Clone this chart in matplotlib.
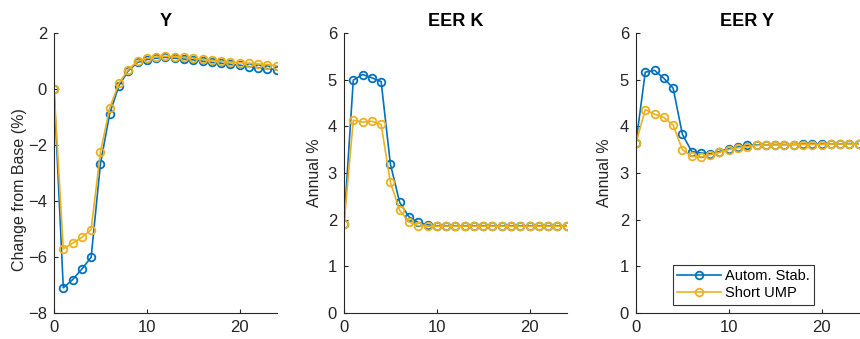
import matplotlib
matplotlib.use("Agg")
import matplotlib.pyplot as plt

plt.rcParams['font.family'] = ['Liberation Sans', 'DejaVu Sans']

# horizon (quarters)
t = list(range(25))

# Y: change from base (%)
y_auto = [0.0, -7.10, -6.81, -6.43, -6.01, -2.68, -0.88, 0.12, 0.65, 0.95, 1.05,
          1.10, 1.13, 1.10, 1.07, 1.04, 0.99, 0.95, 0.92, 0.88, 0.85, 0.80, 0.76, 0.73, 0.69]
y_short = [0.0, -5.71, -5.51, -5.30, -5.02, -2.26, -0.68, 0.21, 0.69, 0.99, 1.10,
           1.14, 1.17, 1.15, 1.13, 1.10, 1.06, 1.02, 0.99, 0.96, 0.94, 0.92, 0.89, 0.87, 0.83]

# EER K (annual %)
k_auto = [1.91, 4.99, 5.11, 5.04, 4.96, 3.19, 2.37, 2.06, 1.94, 1.89, 1.87,
          1.87, 1.87, 1.87, 1.87, 1.87, 1.87, 1.87, 1.87, 1.87, 1.87, 1.87, 1.87, 1.87, 1.87]
k_short = [1.91, 4.13, 4.09, 4.11, 4.04, 2.80, 2.20, 1.95, 1.87, 1.86, 1.86,
           1.86, 1.86, 1.86, 1.86, 1.86, 1.86, 1.86, 1.86, 1.86, 1.86, 1.86, 1.86, 1.86, 1.86]

# EER Y (annual %)
ey_auto = [3.64, 5.16, 5.20, 5.03, 4.82, 3.83, 3.46, 3.43, 3.41, 3.46, 3.52,
           3.56, 3.59, 3.60, 3.60, 3.61, 3.61, 3.61, 3.62, 3.62, 3.62, 3.62, 3.62, 3.63, 3.63]
ey_short = [3.64, 4.36, 4.26, 4.19, 4.03, 3.50, 3.36, 3.34, 3.39, 3.44, 3.50,
            3.54, 3.56, 3.59, 3.60, 3.60, 3.60, 3.61, 3.61, 3.61, 3.61, 3.62, 3.62, 3.62, 3.62]

labels = ["Autom. Stab.", "Short UMP"]
BLUE = "#0072BD"
YELLOW = "#EDB120"
AXC = "#262626"

panels = [
    ("Y", y_auto, y_short, (-8, 2), [-8, -6, -4, -2, 0, 2], "Change from Base (%)"),
    ("EER K", k_auto, k_short, (0, 6), [0, 1, 2, 3, 4, 5, 6], "Annual %"),
    ("EER Y", ey_auto, ey_short, (0, 6), [0, 1, 2, 3, 4, 5, 6], "Annual %"),
]
lefts = [0.0628, 0.400, 0.7395]
# y-label placement (axes fraction), as in the original
label_xy = [(-0.12, 0.44), (-0.097, 0.5), (-0.106, 0.5)]

fig = plt.figure(figsize=(8.6, 3.39), dpi=100)
for i, (title, a, s, ylim, yt, ylab) in enumerate(panels):
    ax = fig.add_axes([lefts[i], 0.0767, 0.259, 0.826])
    ax.plot(t, a, color=BLUE, lw=1.2, marker='o', ms=5.5, mfc='none', mew=1.3, label=labels[0])
    ax.plot(t, s, color=YELLOW, lw=1.2, marker='o', ms=5.5, mfc='none', mew=1.3, label=labels[1])
    ax.set_xlim(0, 24)
    ax.set_ylim(*ylim)
    ax.set_xticks([0, 10, 20])
    ax.set_yticks(yt)
    ax.set_title(title, fontsize=13, fontweight='bold', pad=5)
    ax.set_ylabel(ylab, fontsize=11.5, color=AXC)
    ax.yaxis.set_label_coords(*label_xy[i])
    for side in ['top', 'right']:
        ax.spines[side].set_visible(False)
    for side in ['left', 'bottom']:
        ax.spines[side].set_color(AXC)
        ax.spines[side].set_linewidth(0.8)
    ax.tick_params(direction='in', length=3, width=0.8, colors=AXC, labelsize=12, pad=5)
    if i == 2:
        leg = ax.legend(loc='lower right', bbox_to_anchor=(0.80, 0.03), fontsize=10.5,
                        frameon=True, fancybox=False, edgecolor='black',
                        handlelength=3.0, handletextpad=0.3, borderpad=0.3,
                        labelspacing=0.2, borderaxespad=0)
        leg.get_frame().set_linewidth(0.8)

fig.savefig("out.png", dpi=100)
